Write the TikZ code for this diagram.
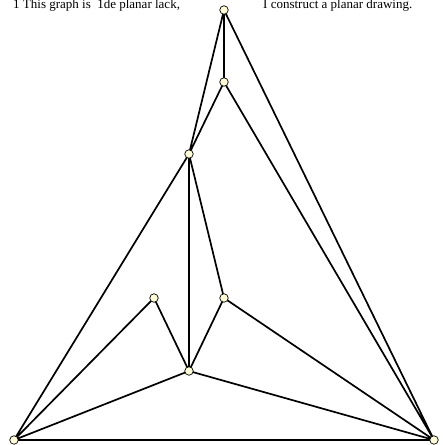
\documentclass[tikz,border=0pt]{standalone}
\usepackage{fontspec}
\setmainfont{Liberation Serif}
\begin{document}
\begin{tikzpicture}[x=1pt,y=-1pt,
  vtx/.style={circle,draw=black,fill=yellow!15,line width=0.7pt,inner sep=0pt,minimum size=8.5pt},
  edge/.style={line width=1.7pt,black},
  lbl/.style={anchor=base west,inner sep=0pt,font=\fontsize{13}{15}\selectfont}]
\useasboundingbox (0,0) rectangle (443,445);
\node[lbl] (t1) at (13,8.5) {1 This graph is \ 1de planar lack,};
\node[lbl] (t2) at (263,8.5) {I construct a planar drawing.};
\coordinate (pT) at (224,10);
\coordinate (pA) at (224,82);
\coordinate (pB) at (189,154);
\coordinate (pC) at (154,298);
\coordinate (pD) at (224,298);
\coordinate (pE) at (189,371);
\coordinate (pL) at (14,440);
\coordinate (pR) at (434,440);
\draw[edge] (pT)--(pA) (pT)--(pB) (pT)--(pR)
  (pA)--(pB) (pA)--(pR)
  (pB)--(pL) (pB)--(pE) (pB)--(pD)
  (pC)--(pL) (pC)--(pE)
  (pD)--(pE) (pD)--(pR)
  (pE)--(pL) (pE)--(pR) (pL)--(pR);
\foreach \n in {T,A,B,C,D,E,L,R} \node[vtx] (v\n) at (p\n) {};
\end{tikzpicture}
\end{document}
